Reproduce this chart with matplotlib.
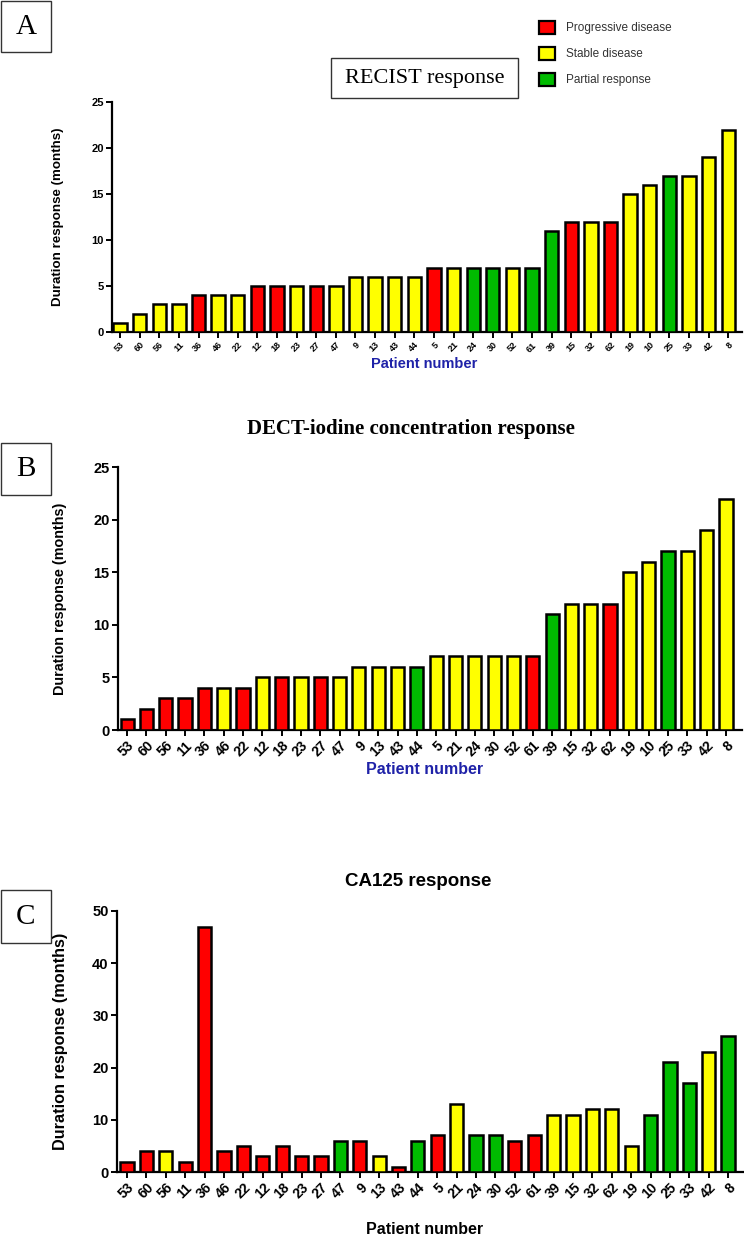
import matplotlib
matplotlib.use('Agg')
import matplotlib.pyplot as plt
from matplotlib.patches import Rectangle, Patch
import numpy as np

plt.rcParams.update({
    'font.family': 'Liberation Sans',
    'font.weight': 'bold',
    'axes.linewidth': 1.6,
})

W, H = 744, 1241

patients = ['53', '60', '56', '11', '36', '46', '22', '12', '18', '23', '27', '47',
            '9', '13', '43', '44', '5', '21', '24', '30', '52', '61', '39', '15',
            '32', '62', '19', '10', '25', '33', '42', '8']

# R = progressive, Y = stable, G = partial
recist_months = [1, 2, 3, 3, 4, 4, 4, 5, 5, 5, 5, 5, 6, 6, 6, 6, 7, 7, 7, 7, 7, 7,
                 11, 12, 12, 12, 15, 16, 17, 17, 19, 22]
recist_resp = ['Y', 'Y', 'Y', 'Y', 'R', 'Y', 'Y', 'R', 'R', 'Y', 'R', 'Y', 'Y', 'Y',
               'Y', 'Y', 'R', 'Y', 'G', 'G', 'Y', 'G', 'G', 'R', 'Y', 'R', 'Y', 'Y',
               'G', 'Y', 'Y', 'Y']

dect_months = [1, 2, 3, 3, 4, 4, 4, 5, 5, 5, 5, 5, 6, 6, 6, 6, 7, 7, 7, 7, 7, 7,
               11, 12, 12, 12, 15, 16, 17, 17, 19, 22]
dect_resp = ['R', 'R', 'R', 'R', 'R', 'Y', 'R', 'Y', 'R', 'Y', 'R', 'Y', 'Y', 'Y',
             'Y', 'G', 'Y', 'Y', 'Y', 'Y', 'Y', 'R', 'G', 'Y', 'Y', 'R', 'Y', 'Y',
             'G', 'Y', 'Y', 'Y']

ca125_months = [2, 4, 4, 2, 47, 4, 5, 3, 5, 3, 3, 6, 6, 3, 1, 6, 7, 13, 7, 7, 6, 7,
                11, 11, 12, 12, 5, 11, 21, 17, 23, 26]
ca125_resp = ['R', 'R', 'Y', 'R', 'R', 'R', 'R', 'R', 'R', 'R', 'R', 'G', 'R', 'Y',
              'R', 'G', 'R', 'Y', 'G', 'G', 'R', 'R', 'Y', 'Y', 'Y', 'Y', 'Y', 'G',
              'G', 'G', 'Y', 'G']

colors = {'R': '#ff0000', 'Y': '#ffff00', 'G': '#00bb00'}
legend_labels = {'R': 'Progressive disease', 'Y': 'Stable disease', 'G': 'Partial response'}


def rect(l, t, r, b):
    return [l / W, 1 - b / H, (r - l) / W, (b - t) / H]


def fx(x):
    return x / W


def fy(y):
    return 1 - y / H


def bar_panel(pos, xlim, months, resp, ymax, ystep, tick_fs, ytick_fs, ylab_fs, ylab_x):
    ax = fig.add_axes(rect(*pos))
    x = np.arange(len(patients))
    ax.bar(x, months, width=0.68, color=[colors[r] for r in resp],
           edgecolor='black', linewidth=1.8, zorder=3)
    ax.set_xlim(*xlim)
    ax.set_ylim(0, ymax)
    ax.set_yticks(np.arange(0, ymax + 1, ystep))
    ax.set_xticks(x)
    ax.set_xticklabels(patients, rotation=45, ha='right', rotation_mode='anchor',
                       fontsize=tick_fs, fontweight='bold')
    for s in ['top', 'right']:
        ax.spines[s].set_visible(False)
    ax.tick_params(axis='both', direction='out', length=4, width=1.4, pad=2)
    ax.tick_params(axis='y', labelsize=ytick_fs)
    for lab in ax.get_yticklabels():
        lab.set_fontweight('bold')
    fig.text(fx(ylab_x), fy((pos[1] + pos[3]) / 2), 'Duration response (months)',
             rotation=90, ha='center', va='center', fontsize=ylab_fs,
             fontweight='bold')
    return ax


def letter_box(l, t, r, b, letter):
    fig.add_artist(Rectangle((fx(l), fy(b)), (r - l) / W, (b - t) / H,
                             transform=fig.transFigure, fill=False,
                             edgecolor='#333333', linewidth=1.0))
    fig.text(fx((l + r) / 2), fy((t + b) / 2), letter, ha='center', va='center',
             fontsize=21, family='Liberation Serif', fontweight='normal')


fig = plt.figure(figsize=(W / 100, H / 100), dpi=100)

# Panel A
axA = bar_panel((112, 102, 742, 332), (-0.41, 31.7), recist_months, recist_resp,
                25, 5, 6.5, 8, 9.6, 58)
fig.text(fx(424), fy(364), 'Patient number', ha='center', va='center',
         fontsize=10.5, fontweight='bold', color='#1f22a8')
letter_box(1, 1, 51, 52, 'A')
fig.add_artist(Rectangle((fx(331), fy(98)), 187 / W, 40 / H,
                         transform=fig.transFigure, fill=False,
                         edgecolor='#333333', linewidth=1.0))
fig.text(fx(424.5), fy(79), 'RECIST response', ha='center', va='center',
         fontsize=16, family='Liberation Serif', fontweight='normal')
handles = [Patch(facecolor=colors[k], edgecolor='black', linewidth=1.6,
                 label=legend_labels[k]) for k in ['R', 'Y', 'G']]
fig.legend(handles=handles, loc='upper left', bbox_to_anchor=(fx(528), fy(10)),
           frameon=False, handlelength=1.35, handleheight=1.35, labelspacing=1.05,
           handletextpad=1.0, prop={'family': 'Liberation Sans', 'size': 8.5,
                                    'weight': 'normal'}, labelcolor='#333333')

# Panel B
axB = bar_panel((118, 467, 742, 730), (-0.47, 31.83), dect_months, dect_resp,
                25, 5, 10, 10.5, 10.4, 60)
fig.text(fx(411), fy(429), 'DECT-iodine concentration response', ha='center',
         va='center', fontsize=15, family='Liberation Serif', fontweight='bold')
fig.text(fx(425), fy(770), 'Patient number', ha='center', va='center',
         fontsize=11.5, fontweight='bold', color='#1f22a8')
letter_box(1, 443, 51, 495, 'B')

# Panel C
axC = bar_panel((117, 911, 743, 1172), (-0.52, 31.77), ca125_months, ca125_resp,
                50, 10, 10, 10.5, 11.7, 60)
fig.text(fx(418.5), fy(882), 'CA125 response', ha='center', va='center',
         fontsize=13.5, fontweight='bold')
fig.text(fx(425), fy(1229), 'Patient number', ha='center', va='center',
         fontsize=11.5, fontweight='bold', color='black')
letter_box(1, 890, 51, 943, 'C')

fig.savefig('out.png', dpi=100)
